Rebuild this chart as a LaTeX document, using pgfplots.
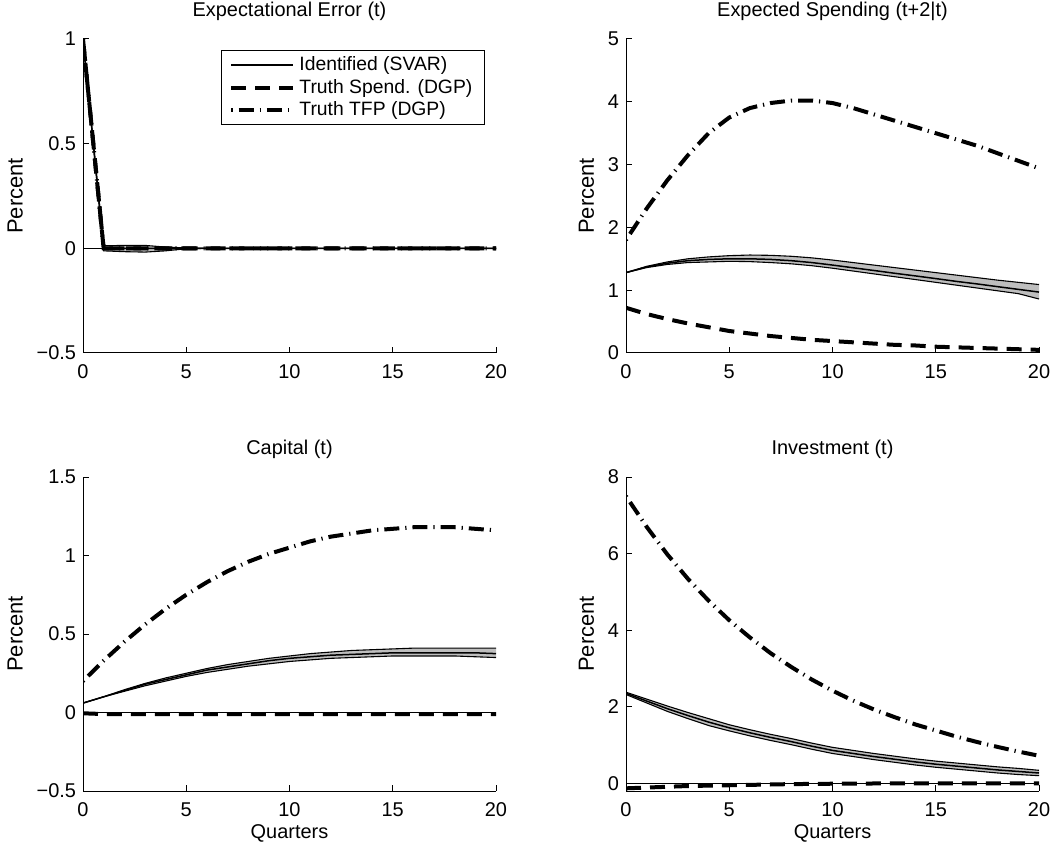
\documentclass[border=0pt]{standalone}
\usepackage{fontspec}
\setmainfont{Liberation Sans}
\usepackage{pgfplots}
\usepackage{pgfplotstable}
\pgfplotsset{compat=1.18}

\definecolor{bandgray}{RGB}{190,190,190}

\pgfplotstableread{
t mid up lo spend tfp
0 1 1 1 1 1
1 0 0.012 -0.012 0 0
2 0 0.014 -0.016 0 0
3 0 0.014 -0.018 0 0
4 0 0.006 -0.012 0 0
5 0 0.002 -0.002 0 0
6 0 0 0 0 0
7 0 0 0 0 0
8 0 0 0 0 0
9 0 0 0 0 0
10 0 0 0 0 0
11 0 0 0 0 0
12 0 0 0 0 0
13 0 0 0 0 0
14 0 0 0 0 0
15 0 0 0 0 0
16 0 0 0 0 0
17 0 0 0 0 0
18 0 0 0 0 0
19 0 0 0 0 0
20 0 0 0 0 0
}\tabA

\pgfplotstableread{
t mid up lo spend tfp
0 1.28 1.28 1.28 0.72 1.80
1 1.37 1.38 1.36 0.62 2.30
2 1.43 1.45 1.41 0.54 2.75
3 1.47 1.50 1.44 0.47 3.15
4 1.49 1.53 1.45 0.41 3.50
5 1.50 1.55 1.46 0.35 3.75
6 1.50 1.56 1.455 0.31 3.90
7 1.49 1.555 1.44 0.27 3.98
8 1.47 1.54 1.42 0.24 4.02
9 1.44 1.515 1.39 0.21 4.02
10 1.40 1.48 1.35 0.19 3.98
11 1.357 1.44 1.305 0.17 3.90
12 1.314 1.40 1.26 0.15 3.80
13 1.27 1.36 1.215 0.13 3.70
14 1.228 1.32 1.17 0.12 3.60
15 1.185 1.28 1.125 0.10 3.50
16 1.14 1.24 1.08 0.09 3.40
17 1.10 1.20 1.035 0.08 3.30
18 1.056 1.16 0.99 0.07 3.18
19 1.013 1.125 0.945 0.06 3.06
20 0.97 1.09 0.86 0.05 2.94
}\tabB

\pgfplotstableread{
t mid up lo spend tfp
0 0.06 0.06 0.06 -0.005 0.20
1 0.10 0.10 0.10 -0.01 0.33
2 0.14 0.145 0.135 -0.01 0.45
3 0.18 0.185 0.17 -0.01 0.56
4 0.21 0.22 0.20 -0.01 0.66
5 0.24 0.25 0.23 -0.01 0.75
6 0.27 0.28 0.255 -0.01 0.83
7 0.29 0.305 0.275 -0.01 0.90
8 0.31 0.325 0.295 -0.01 0.96
9 0.33 0.345 0.31 -0.01 1.01
10 0.345 0.36 0.325 -0.01 1.05
11 0.355 0.375 0.335 -0.01 1.09
12 0.365 0.385 0.345 -0.01 1.12
13 0.37 0.395 0.35 -0.01 1.14
14 0.375 0.40 0.355 -0.01 1.16
15 0.38 0.405 0.36 -0.01 1.17
16 0.38 0.41 0.36 -0.01 1.18
17 0.38 0.41 0.36 -0.01 1.18
18 0.38 0.41 0.36 -0.01 1.18
19 0.38 0.41 0.355 -0.01 1.17
20 0.375 0.41 0.35 -0.01 1.16
}\tabC

\pgfplotstableread{
t mid up lo spend tfp
0 2.35 2.38 2.32 -0.13 7.50
1 2.15 2.20 2.10 -0.11 6.70
2 1.95 2.02 1.88 -0.09 5.98
3 1.77 1.85 1.69 -0.07 5.34
4 1.60 1.69 1.51 -0.06 4.77
5 1.45 1.53 1.37 -0.05 4.26
6 1.32 1.40 1.24 -0.04 3.81
7 1.20 1.28 1.12 -0.03 3.40
8 1.09 1.17 1.01 -0.02 3.04
9 0.97 1.05 0.89 -0.015 2.71
10 0.86 0.94 0.78 -0.01 2.42
11 0.78 0.86 0.70 -0.006 2.16
12 0.70 0.78 0.62 -0.004 1.93
13 0.63 0.71 0.55 -0.002 1.73
14 0.56 0.64 0.48 0 1.54
15 0.50 0.58 0.42 0 1.38
16 0.45 0.53 0.37 0 1.22
17 0.40 0.48 0.32 0 1.08
18 0.35 0.43 0.27 0 0.95
19 0.31 0.39 0.23 0 0.83
20 0.27 0.34 0.20 0 0.72
}\tabD

\pgfplotsset{
  panel/.style={
    scale only axis, width=206.5bp, height=157bp, anchor=south west,
    axis x line*=bottom, axis y line*=left,
    axis line style={-, line width=0.5bp, black},
    tick align=inside, major tick length=3bp,
    tick style={line width=0.5bp, black},
    xmin=0, xmax=20, xtick={0,5,10,15,20},
    /pgf/number format/assume math mode=true,
    tick label style={font=\fontsize{10}{12}\selectfont},
    xticklabel style={yshift=-2.5bp},
    label style={font=\fontsize{11}{13}\selectfont},
    every axis x label/.style={at={(axis description cs:0.5,0)}, anchor=center, yshift=-21bp},
    every axis title/.style={font=\fontsize{10}{12}\selectfont, at={(0.5,1)}, anchor=center, yshift=14bp},
    ylabel={Percent},
  },
  svar/.style={black, line width=0.75bp},
  edge/.style={black, line width=0.55bp, forget plot},
  bandfill/.style={fill=bandgray, draw=none, forget plot},
  spend/.style={black, line width=2bp, dash pattern=on 7.5bp off 4.5bp},
  tfp/.style={black, line width=2bp, dash pattern=on 0.6bp off 3bp on 7.5bp off 3bp},
  zero/.style={black, line width=0.5bp, forget plot},
}

\begin{document}
\begin{tikzpicture}
\useasboundingbox (0,0) rectangle (525.5bp,424bp);

\begin{axis}[panel, at={(41.5bp,247.5bp)},
  title={Expectational Error (t)},
  ymin=-0.5, ymax=1, ytick={-0.5,0,0.5,1}, yticklabels={−0.5,0,0.5,1},
  legend style={at={(0.973,0.965)}, anchor=north east, draw=black, line width=0.5bp,
    font=\fontsize{9.7}{11.5}\selectfont, inner xsep=4bp, inner ysep=1bp,
    /tikz/every even column/.append style={column sep=0bp}},
  legend cell align=left,
  legend image code/.code={\draw[#1] (0bp,0bp) -- (31bp,0bp);},
  legend style={row sep=-1.2bp},
]
\addplot[bandfill] coordinates {(0,1) (1,0.012) (2,0.014) (3,0.014) (4,0.006) (5,0)
  (4,-0.012) (3,-0.018) (2,-0.016) (1,-0.012)} -- cycle;
\addplot[edge] table[x=t,y=up]{\tabA};
\addplot[edge] table[x=t,y=lo]{\tabA};
\addplot[svar] table[x=t,y=mid]{\tabA};
\addlegendentry{Identified (SVAR)}
\addplot[zero] coordinates {(0,0) (20,0)};
\addplot[spend] table[x=t,y=spend]{\tabA};
\addlegendentry{Truth Spend. (DGP)}
\addplot[tfp] table[x=t,y=tfp]{\tabA};
\addlegendentry{Truth TFP (DGP)}
\end{axis}

\begin{axis}[panel, at={(313bp,247.5bp)},
  title={Expected Spending (t+2|t)},
  ymin=0, ymax=5, ytick={0,1,2,3,4,5},
]
\addplot[bandfill] coordinates {(0,1.28) (1,1.38) (2,1.45) (3,1.50) (4,1.53) (5,1.55) (6,1.56) (7,1.555) (8,1.54) (9,1.515) (10,1.48) (11,1.44) (12,1.40) (13,1.36) (14,1.32) (15,1.28) (16,1.24) (17,1.20) (18,1.16) (19,1.125) (20,1.09)
  (20,0.86) (19,0.945) (18,0.99) (17,1.035) (16,1.08) (15,1.125) (14,1.17) (13,1.215) (12,1.26) (11,1.305) (10,1.35) (9,1.39) (8,1.42) (7,1.44) (6,1.455) (5,1.46) (4,1.45) (3,1.44) (2,1.41) (1,1.36)} -- cycle;
\addplot[edge] table[x=t,y=up]{\tabB};
\addplot[edge] table[x=t,y=lo]{\tabB};
\addplot[svar] table[x=t,y=mid]{\tabB};
\addplot[spend] table[x=t,y=spend]{\tabB};
\addplot[tfp] table[x=t,y=tfp]{\tabB};
\end{axis}

\begin{axis}[panel, at={(41.5bp,28.5bp)},
  title={Capital (t)}, xlabel={Quarters},
  ymin=-0.5, ymax=1.5, ytick={-0.5,0,0.5,1,1.5}, yticklabels={−0.5,0,0.5,1,1.5},
]
\addplot[bandfill] coordinates {(0,0.06) (1,0.10) (2,0.145) (3,0.185) (4,0.22) (5,0.25) (6,0.28) (7,0.305) (8,0.325) (9,0.345) (10,0.36) (11,0.375) (12,0.385) (13,0.395) (14,0.40) (15,0.405) (16,0.41) (17,0.41) (18,0.41) (19,0.41) (20,0.41)
  (20,0.35) (19,0.355) (18,0.36) (17,0.36) (16,0.36) (15,0.36) (14,0.355) (13,0.35) (12,0.345) (11,0.335) (10,0.325) (9,0.31) (8,0.295) (7,0.275) (6,0.255) (5,0.23) (4,0.20) (3,0.17) (2,0.135) (1,0.10)} -- cycle;
\addplot[edge] table[x=t,y=up]{\tabC};
\addplot[edge] table[x=t,y=lo]{\tabC};
\addplot[svar] table[x=t,y=mid]{\tabC};
\addplot[zero] coordinates {(0,0) (20,0)};
\addplot[spend] table[x=t,y=spend]{\tabC};
\addplot[tfp] table[x=t,y=tfp]{\tabC};
\end{axis}

\begin{axis}[panel, at={(313bp,28.5bp)},
  title={Investment (t)}, xlabel={Quarters},
  ymin=-0.2, ymax=8, ytick={0,2,4,6,8},
]
\addplot[bandfill] coordinates {(0,2.38) (1,2.20) (2,2.02) (3,1.85) (4,1.69) (5,1.53) (6,1.40) (7,1.28) (8,1.17) (9,1.05) (10,0.94) (11,0.86) (12,0.78) (13,0.71) (14,0.64) (15,0.58) (16,0.53) (17,0.48) (18,0.43) (19,0.39) (20,0.34)
  (20,0.20) (19,0.23) (18,0.27) (17,0.32) (16,0.37) (15,0.42) (14,0.48) (13,0.55) (12,0.62) (11,0.70) (10,0.78) (9,0.89) (8,1.01) (7,1.12) (6,1.24) (5,1.37) (4,1.51) (3,1.69) (2,1.88) (1,2.10) (0,2.32)} -- cycle;
\addplot[edge] table[x=t,y=up]{\tabD};
\addplot[edge] table[x=t,y=lo]{\tabD};
\addplot[svar] table[x=t,y=mid]{\tabD};
\addplot[zero] coordinates {(0,0) (20,0)};
\addplot[spend] table[x=t,y=spend]{\tabD};
\addplot[tfp] table[x=t,y=tfp]{\tabD};
\end{axis}
\end{tikzpicture}
\end{document}
